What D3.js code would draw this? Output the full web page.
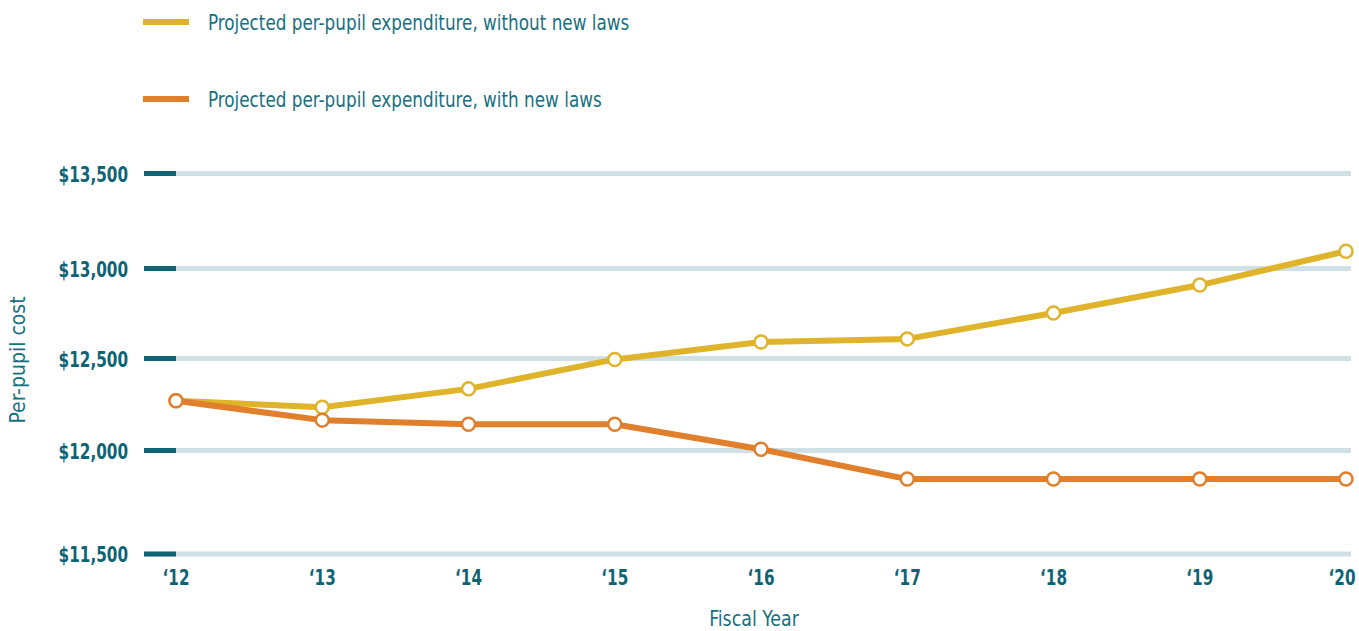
<!DOCTYPE html>
<html>
<head>
<meta charset="utf-8">
<title>Projected per-pupil expenditure</title>
<style>
  body { margin: 0; background: #fff; }
  svg text { font-family: "DejaVu Sans Condensed", "DejaVu Sans", sans-serif; font-stretch: condensed; }
</style>
</head>
<body>
<script src="https://cdn.jsdelivr.net/npm/d3@7"></script>
<script>
// data
var years = ["‘12", "‘13", "‘14", "‘15", "‘16", "‘17", "‘18", "‘19", "‘20"];
var withoutLaws = [12270, 12235, 12335, 12495, 12592, 12609, 12753, 12908, 13091];
var withLaws = [12270, 12165, 12143, 12143, 12007, 11862, 11862, 11862, 11862];
var yTicks = [11500, 12000, 12500, 13000, 13500];
var seriesNames = ["Projected per-pupil expenditure, without new laws",
                   "Projected per-pupil expenditure, with new laws"];

var width = 1359, height = 631;
var colors = ["#DFB42A", "#E07F2C"];
var teal = "#0E6475", textTeal = "#19707F", gridColor = "#D0E1E6";
// the original face is narrower than anything installed, squeeze horizontally
var squeezeBold = 0.77, squeeze = 0.85;

var svg = d3.select("body").append("svg")
  .attr("width", width)
  .attr("height", height);

// x: point scale over fiscal years
var x = d3.scalePoint().domain(years).range([176, 1346]);
// y: the printed gridlines are not evenly spaced, so map each tick to its row
var y = d3.scaleLinear().domain(yTicks).range([554, 450.5, 358.5, 268.5, 173.5]);

// gridlines
var grid = svg.append("g").attr("id", "grid");
grid.selectAll(".gridline")
  .data(yTicks)
  .enter().append("line")
  .attr("x1", 144).attr("x2", 1351)
  .attr("y1", function (d) { return y(d); })
  .attr("y2", function (d) { return y(d); })
  .attr("stroke", gridColor)
  .attr("stroke-width", 5);
grid.selectAll(".tickmark")
  .data(yTicks)
  .enter().append("line")
  .attr("x1", 144).attr("x2", 176)
  .attr("y1", function (d) { return y(d); })
  .attr("y2", function (d) { return y(d); })
  .attr("stroke", teal)
  .attr("stroke-width", 5);

// y axis labels
svg.append("g").selectAll("text")
  .data(yTicks)
  .enter().append("text")
  .attr("transform", function (d) { return "translate(128," + (y(d) + 8) + ") scale(" + squeezeBold + ",1)"; })
  .attr("text-anchor", "end")
  .attr("fill", teal)
  .style("font-size", "22px")
  .style("font-weight", "bold")
  .text(function (d) { return "$" + d3.format(",")(d); });

// x axis labels
svg.append("g").selectAll("text")
  .data(years)
  .enter().append("text")
  .attr("transform", function (d, i) {
    var cx = i === years.length - 1 ? x(d) - 4 : x(d);
    return "translate(" + cx + ",585) scale(" + squeezeBold + ",1)";
  })
  .attr("text-anchor", "middle")
  .attr("fill", teal)
  .style("font-size", "22px")
  .style("font-weight", "bold")
  .text(function (d) { return d; });

// axis titles
svg.append("text")
  .attr("transform", "translate(754,626) scale(0.88,1)")
  .attr("text-anchor", "middle")
  .attr("fill", textTeal)
  .style("font-size", "22px")
  .text("Fiscal Year");

svg.append("text")
  .attr("transform", "translate(25,360) rotate(-90)")
  .attr("text-anchor", "middle")
  .attr("fill", textTeal)
  .style("font-size", "21px")
  .text("Per-pupil cost");

// lines
var line = d3.line()
  .x(function (d, i) { return x(years[i]); })
  .y(function (d) { return y(d); });

var series = [withoutLaws, withLaws];
series.forEach(function (s, k) {
  svg.append("path")
    .datum(s)
    .attr("d", line)
    .attr("fill", "none")
    .attr("stroke", colors[k])
    .attr("stroke-width", 6)
    .attr("stroke-linejoin", "round");
});
series.forEach(function (s, k) {
  svg.append("g").selectAll("circle")
    .data(s)
    .enter().append("circle")
    .attr("cx", function (d, i) { return x(years[i]); })
    .attr("cy", function (d) { return y(d); })
    .attr("r", 6.5)
    .attr("fill", "#fff")
    .attr("stroke", colors[k])
    .attr("stroke-width", 2.5);
});

// legend
var legend = svg.append("g").attr("id", "legend");
seriesNames.forEach(function (name, i) {
  var ly = 22 + i * 77;
  legend.append("line")
    .attr("x1", 143).attr("x2", 189)
    .attr("y1", ly).attr("y2", ly)
    .attr("stroke", colors[i])
    .attr("stroke-width", 6);
  legend.append("text")
    .attr("transform", "translate(208," + (ly + 8) + ") scale(" + squeeze + ",1)")
    .attr("fill", textTeal)
    .style("font-size", "22px")
    .text(name);
});
</script>
</body>
</html>
